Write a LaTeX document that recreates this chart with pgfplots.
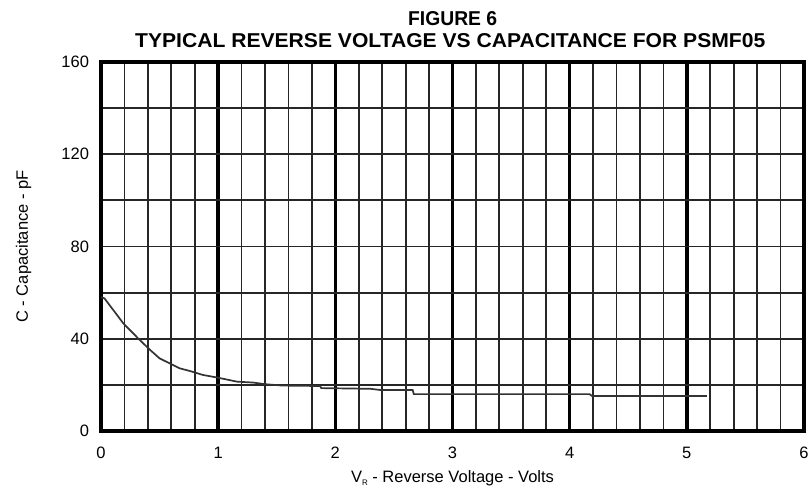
\documentclass[border=0pt]{standalone}
\usepackage{pgfplots}
\pgfplotsset{compat=1.18}
\usepackage{fontspec}
\setmainfont{Liberation Sans}
\begin{document}
\begin{tikzpicture}
\path[use as bounding box] (-101pt,-57pt) rectangle (711pt,431pt);
\begin{axis}[
  at={(0pt,0pt)}, anchor=south west,
  scale only axis, width=703pt, height=369pt,
  xmin=0, xmax=6, ymin=0, ymax=160,
  xtick={0,...,6}, minor x tick num=4,
  ytick={0,20,...,160}, yticklabels={0,,40,,80,,120,,160},
  grid=both,
  major x grid style={line width=3.5pt, black},
  minor x grid style={line width=1.8pt, black!85},
  major y grid style={line width=1.8pt, black!85},
  axis line style={line width=3.8pt, black},
  major tick length=0pt, minor tick length=0pt,
  tick style={draw=none},
  /pgf/number format/assume math mode=true,
  ticklabel style={font=\fontsize{16.5}{18}\selectfont},
  xticklabel style={anchor=base, yshift=-27pt},
  yticklabel style={anchor=east, xshift=-8.5pt},
  xlabel={V\raisebox{-3.5pt}{\fontsize{8}{8}\selectfont R} - Reverse Voltage - Volts},
  xlabel style={font=\fontsize{16.5}{18}\selectfont, at={(axis description cs:0.5,0)}, anchor=base, yshift=-51pt},
  ylabel={C - Capacitance - pF},
  ylabel style={font=\fontsize{16.5}{18}\selectfont, at={([xshift=-73pt]axis description cs:0,0.5)}, anchor=base},
  clip=true,
]
\addplot[line width=1.7pt, black!80] coordinates {
(0,58) (0.03,57.5) (0.19,46.7) (0.33,39.5) (0.42,35.1) (0.5,31.5) (0.67,27.2)
(0.76,26.0) (0.87,24.3) (1.0,23.1) (1.16,21.4) (1.3,21.0) (1.4,20.3) (1.55,19.7)
(1.87,19.5) (1.88,18.6) (2.3,18.3) (2.38,17.8) (2.66,17.8) (2.67,16.0) (4.17,16.0)
(4.19,15.2) (5.17,15.2)
};
\end{axis}
\node[anchor=base west, inner sep=0pt] at (307pt,405pt) {\resizebox{89pt}{14pt}{\bfseries FIGURE 6}};
\node[anchor=base west, inner sep=0pt] at (34pt,383pt) {\resizebox{630pt}{14pt}{\bfseries TYPICAL REVERSE VOLTAGE VS CAPACITANCE FOR PSMF05}};
\end{tikzpicture}
\end{document}
